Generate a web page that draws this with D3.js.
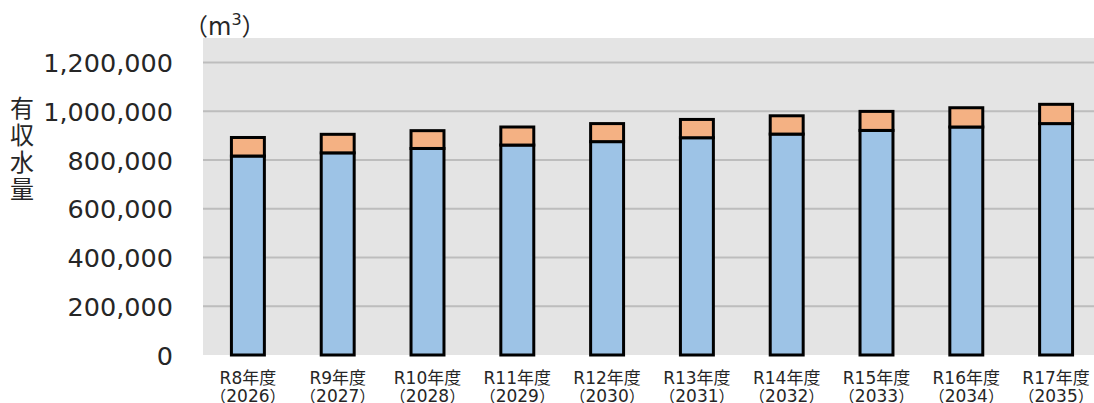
<!DOCTYPE html>
<html><head><meta charset="utf-8">
<script src="https://cdn.jsdelivr.net/npm/d3@7"></script>
<style>html,body{margin:0;padding:0;background:#fff;overflow:hidden}</style>
</head><body>
<svg id="c" width="1094" height="403"></svg>
<script>
const categories = ["R8年度","R9年度","R10年度","R11年度","R12年度","R13年度","R14年度","R15年度","R16年度","R17年度"];
const years = ["2026","2027","2028","2029","2030","2031","2032","2033","2034","2035"];
const blueValues = [816000, 829000, 847000, 861000, 875000, 891000, 906000, 921000, 935000, 949000];
const orangeValues = [76000, 76000, 73000, 74000, 74000, 75000, 75000, 78000, 79000, 79000];
const yTicks = [0, 200000, 400000, 600000, 800000, 1000000, 1200000];
const yTitle = ["有","収","水","量"];

const svg = d3.select("#c");
const pL = 203, pR = 1101, pT = 38, pB = 355;
const font = "'DejaVu Sans','Noto Sans CJK JP',sans-serif";
const cjk = "'Noto Sans CJK JP',sans-serif";

const x = d3.scaleBand().domain(categories).range([pL, pR]).paddingInner(0.633).paddingOuter(0.3165);
const y = d3.scaleLinear().domain([0, 1300000]).range([pB, pT]);

svg.append("rect").attr("x", pL).attr("y", pT).attr("width", pR - pL).attr("height", pB - pT).attr("fill", "#e4e4e4");

svg.append("g").selectAll("line").data(yTicks.filter(d => d > 0)).join("line")
  .attr("x1", pL).attr("x2", pR).attr("y1", d => y(d)).attr("y2", d => y(d))
  .attr("stroke", "#bdbdbd").attr("stroke-width", 2);

const yAxis = d3.axisLeft(y).tickValues(yTicks).tickFormat(d3.format(",")).tickSize(0).tickPadding(0);
const ga = svg.append("g").attr("transform", `translate(173,0)`).call(yAxis);
ga.select(".domain").remove();
ga.selectAll("text").attr("font-family", font).attr("font-size", 25.5).attr("fill", "#262626").attr("dy", "0.36em");

const bars = svg.append("g");
categories.forEach((c, i) => {
  const b = blueValues[i], o = orangeValues[i];
  bars.append("rect").attr("x", x(c)).attr("width", x.bandwidth())
    .attr("y", y(b)).attr("height", y(0) - y(b))
    .attr("fill", "#9dc3e6").attr("stroke", "#000").attr("stroke-width", 3);
  bars.append("rect").attr("x", x(c)).attr("width", x.bandwidth())
    .attr("y", y(b + o)).attr("height", y(b) - y(b + o))
    .attr("fill", "#f4b183").attr("stroke", "#000").attr("stroke-width", 3);
});

const xl = svg.append("g");
categories.forEach((c, i) => {
  const cx = x(c) + x.bandwidth() / 2;
  xl.append("text").attr("x", cx).attr("y", 384).attr("text-anchor", "middle")
    .attr("font-family", font).attr("font-size", 17).attr("fill", "#262626").text(c);
  const t = xl.append("text").attr("x", cx).attr("y", 402).attr("text-anchor", "middle")
    .attr("font-family", cjk).attr("font-size", 16).attr("fill", "#262626");
  t.append("tspan").text("（");
  t.append("tspan").attr("font-family", font).attr("font-size", 17).text(years[i]);
  t.append("tspan").text("）");
});

svg.append("g").selectAll("text").data(yTitle).join("text")
  .attr("x", 22).attr("y", (d, i) => 117 + i * 27).attr("text-anchor", "middle")
  .attr("font-family", cjk).attr("font-size", 24).attr("fill", "#262626").text(d => d);

const u = svg.append("text").attr("x", 184).attr("y", 35).attr("font-family", cjk).attr("font-size", 24).attr("fill", "#262626");
u.append("tspan").text("（");
u.append("tspan").attr("font-family", font).text("m");
u.append("tspan").attr("font-family", font).attr("font-size", 16).attr("dy", -10).text("3");
u.append("tspan").attr("dy", 10).text("）");
</script>
</body></html>
